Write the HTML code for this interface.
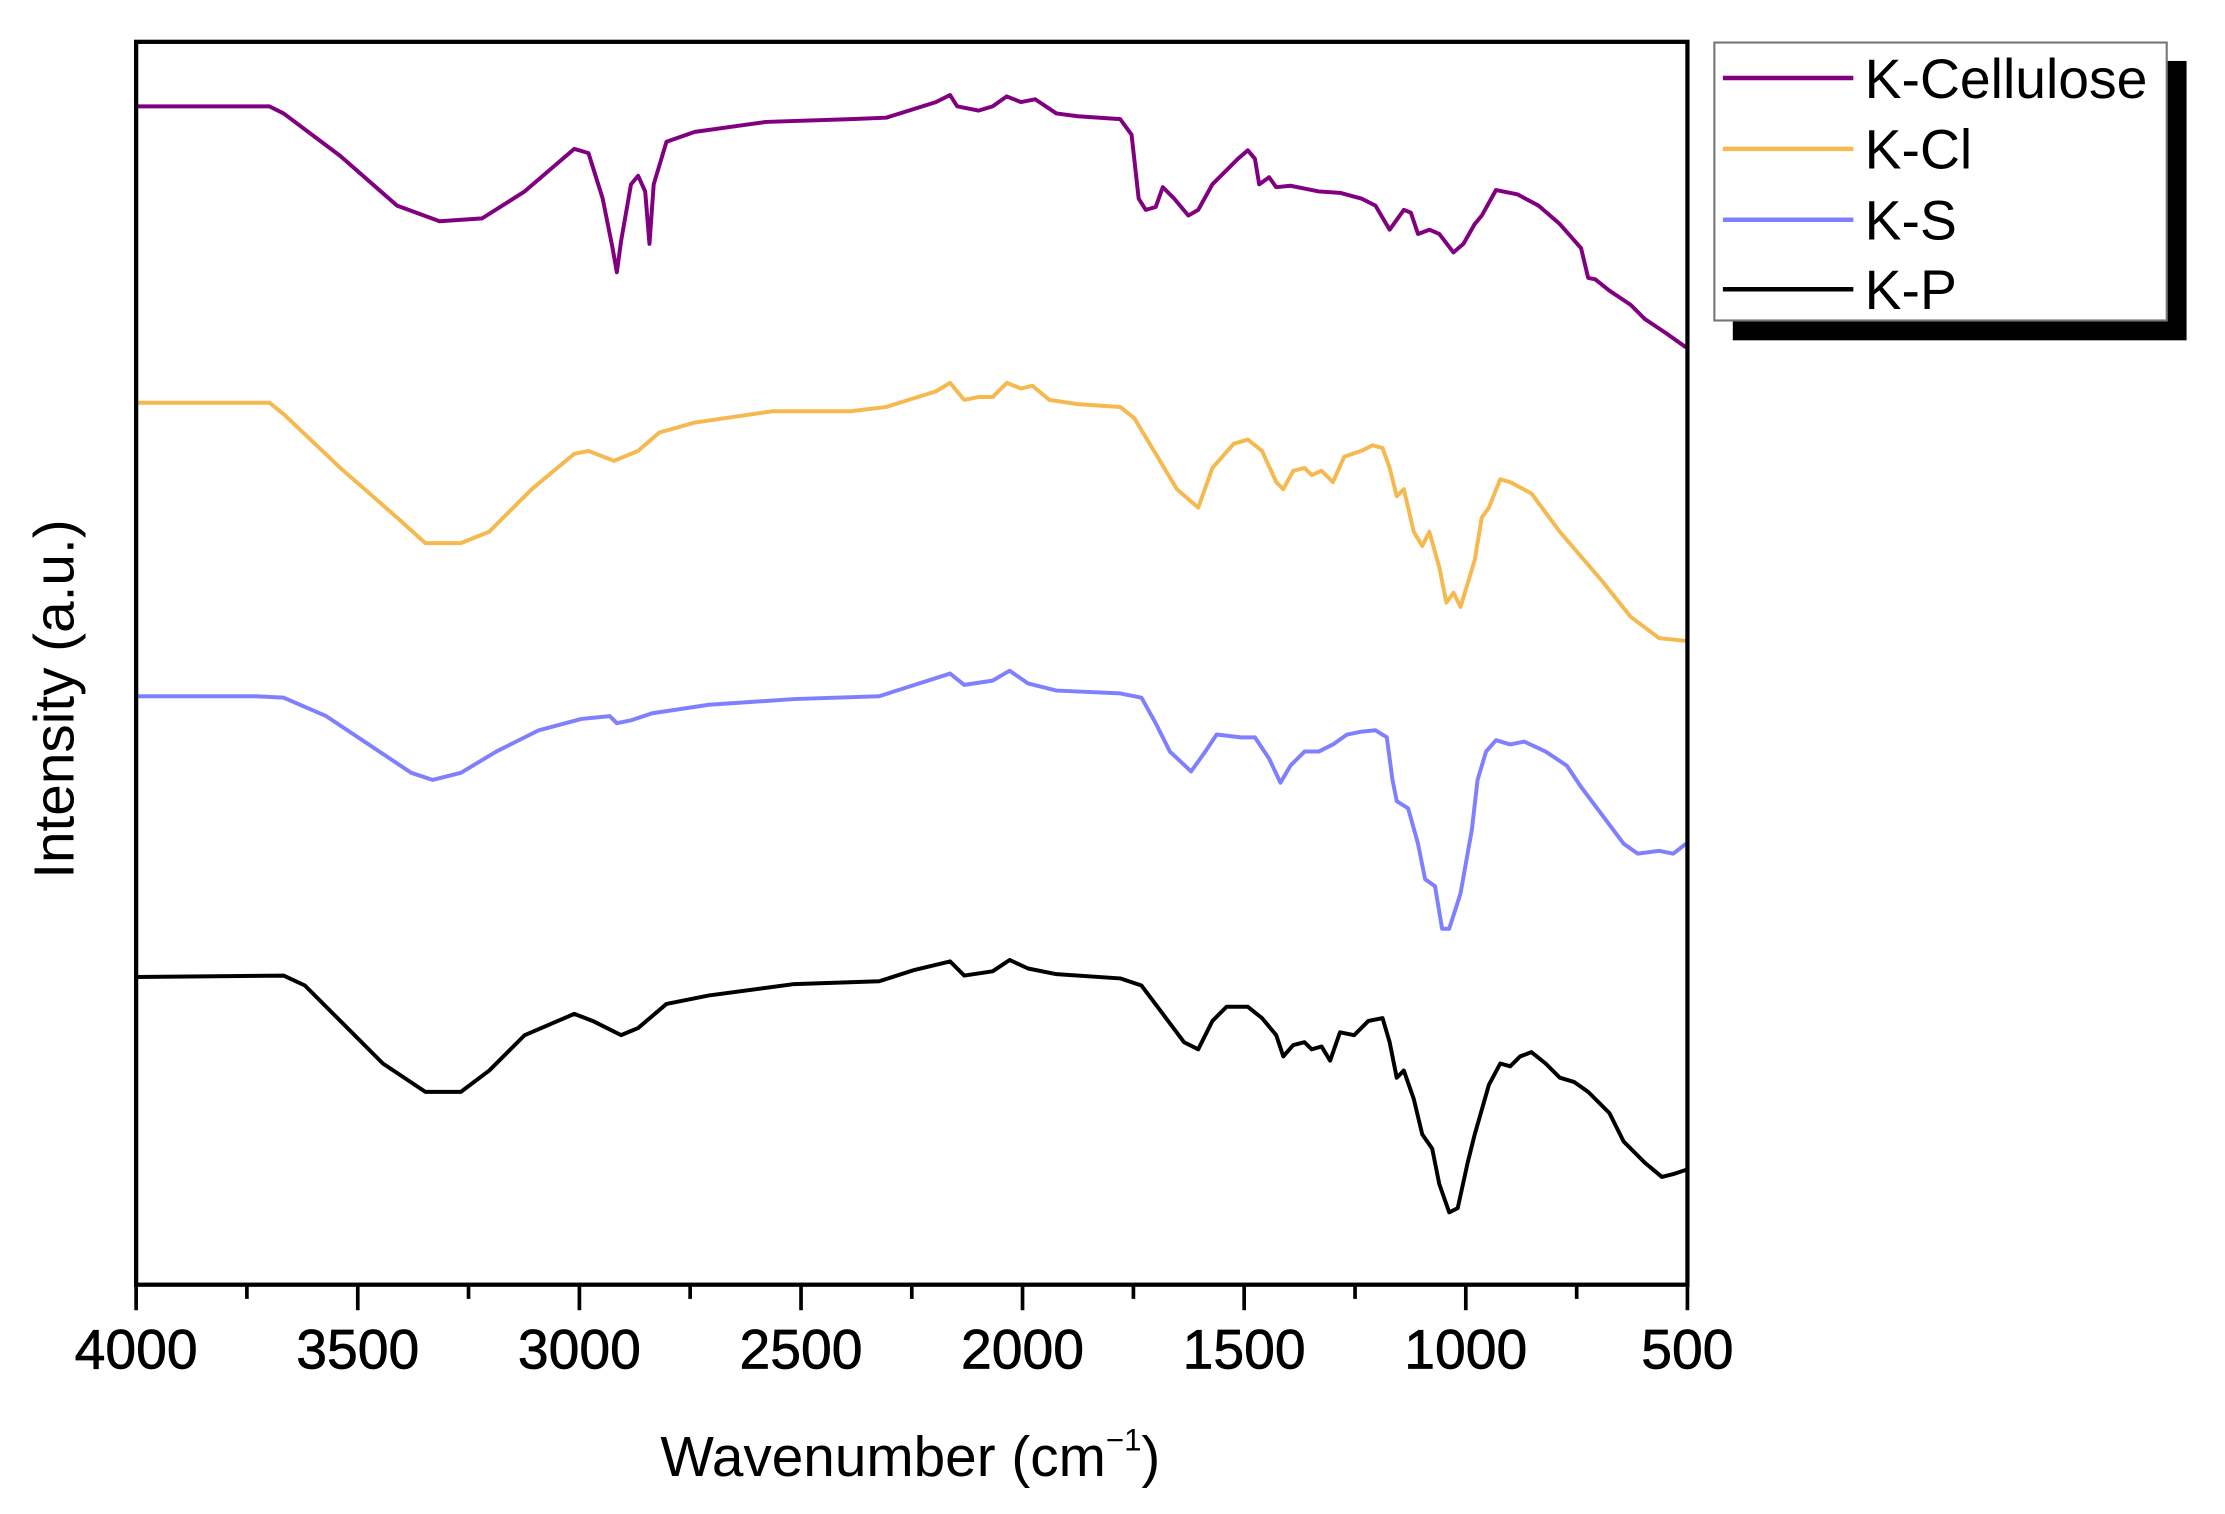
<!DOCTYPE html>
<html><head><meta charset="utf-8"><style>
html,body{margin:0;padding:0;background:#fff;}
svg{display:block;}
text{font-family:"Liberation Sans",Arial,sans-serif;fill:#000;}
</style></head><body>
<svg width="2225" height="1514" viewBox="0 0 1569.1 1067.7" xmlns="http://www.w3.org/2000/svg">
<rect x="0" y="0" width="1569.1" height="1067.7" fill="#fff"/>
<g fill="none" stroke-width="2.8" stroke-linejoin="round">
<polyline stroke="#800080" points="96,75 190,75 200,80 240,110 280,145 310,156 340,154 370,135 405,105 415,108 425,140 432,175 435,192 438,170 445,130 450,124 455,135 458,172 461,130 470,100 490,93 540,86 600,84 625,83 660,72 670,67 675,75 690,78 700,75 710,68 720,72 730,70 745,80 760,82 790,84 798,95 803,140 808,148 815,146 820,132 828,140 838,152 845,148 855,130 865,120 873,112 880,106 885,112 888,130 895,125 900,132 910,131 920,133 930,135 945,136 960,140 970,145 980,162 985,155 990,148 995,150 1000,165 1008,162 1015,165 1025,178 1032,172 1040,158 1045,152 1055,134 1070,137 1085,145 1100,158 1115,175 1120,196 1125,197 1135,205 1150,215 1160,225 1175,235 1189,245"/>
<polyline stroke="#F5B94F" points="96,284 190,284 200,292 240,330 280,365 300,383 325,383 345,375 375,345 405,320 415,318 433,325 450,318 465,305 490,298 545,290 600,290 625,287 660,276 670,270 680,282 690,280 700,280 710,270 720,274 728,272 740,282 760,285 790,287 800,295 815,320 830,345 845,358 855,330 870,313 880,310 890,318 900,340 905,345 912,332 920,330 925,335 932,332 940,340 948,322 960,318 968,314 975,316 980,330 985,350 990,345 997,375 1003,385 1008,375 1015,400 1020,425 1025,418 1030,428 1040,395 1045,365 1050,358 1058,338 1065,340 1080,348 1100,375 1130,410 1150,435 1170,450 1189,452"/>
<polyline stroke="#8080FF" points="96,491 180,491 200,492 230,505 260,525 290,545 305,550 325,545 350,530 380,515 410,507 430,505 435,510 445,508 460,503 500,497 560,493 620,491 645,483 670,475 680,483 700,480 712,473 725,482 745,487 790,489 805,492 815,510 825,530 840,544 850,530 858,518 875,520 885,520 895,535 903,552 910,540 920,530 930,530 940,525 950,518 960,516 970,515 978,520 982,550 985,565 993,570 1000,595 1005,620 1012,625 1017,655 1022,655 1030,630 1038,585 1042,550 1048,530 1055,522 1065,525 1075,523 1090,530 1105,540 1115,555 1130,575 1145,595 1155,602 1170,600 1180,602 1189,595"/>
<polyline stroke="#000" points="96,689 200,688 215,695 240,720 270,750 300,770 325,770 345,755 370,730 405,715 418,720 438,730 450,725 470,708 500,702 560,694 620,692 645,684 670,678 680,688 700,685 712,677 725,683 745,687 790,690 805,695 820,715 835,735 845,740 855,720 865,710 880,710 890,718 900,730 905,745 912,737 920,735 925,740 932,738 938,748 945,728 955,730 965,720 975,718 980,735 985,760 990,755 997,775 1003,800 1010,810 1015,835 1022,855 1028,852 1035,820 1040,800 1050,765 1058,750 1065,752 1072,745 1080,742 1090,750 1100,760 1110,763 1120,770 1135,785 1145,805 1160,820 1172,830 1180,828 1189,825"/>
</g>
<rect x="96" y="29.5" width="1094" height="876.5" fill="none" stroke="#000" stroke-width="3"/>
<g stroke="#000" stroke-width="2.6">
<line x1="96" y1="906" x2="96" y2="924"/><line x1="252.3" y1="906" x2="252.3" y2="924"/><line x1="408.6" y1="906" x2="408.6" y2="924"/><line x1="564.9" y1="906" x2="564.9" y2="924"/><line x1="721.1" y1="906" x2="721.1" y2="924"/><line x1="877.4" y1="906" x2="877.4" y2="924"/><line x1="1033.7" y1="906" x2="1033.7" y2="924"/><line x1="1190" y1="906" x2="1190" y2="924"/>
<line x1="174.1" y1="906" x2="174.1" y2="916"/><line x1="330.4" y1="906" x2="330.4" y2="916"/><line x1="486.7" y1="906" x2="486.7" y2="916"/><line x1="643" y1="906" x2="643" y2="916"/><line x1="799.3" y1="906" x2="799.3" y2="916"/><line x1="955.6" y1="906" x2="955.6" y2="916"/><line x1="1111.9" y1="906" x2="1111.9" y2="916"/>
</g>
<g font-size="39" text-anchor="middle" stroke="#000" stroke-width="0.5">
<text x="96" y="965">4000</text><text x="252.3" y="965">3500</text><text x="408.6" y="965">3000</text><text x="564.9" y="965">2500</text><text x="721.1" y="965">2000</text><text x="877.4" y="965">1500</text><text x="1033.7" y="965">1000</text><text x="1190" y="965">500</text>
</g>
<text x="642" y="1041" font-size="40" text-anchor="middle">Wavenumber (cm<tspan font-size="22" dy="-18">−1</tspan><tspan dy="18">)</tspan></text>
<text transform="translate(52,493) rotate(-90)" font-size="40" text-anchor="middle">Intensity (a.u.)</text>
<rect x="1222" y="43" width="320" height="197" fill="#000"/>
<rect x="1209" y="30" width="319" height="196" fill="#fff" stroke="#777" stroke-width="1.5"/>
<g stroke-width="3.2">
<line x1="1215" y1="55" x2="1307" y2="55" stroke="#800080"/>
<line x1="1215" y1="105" x2="1307" y2="105" stroke="#F5B94F"/>
<line x1="1215" y1="155" x2="1307" y2="155" stroke="#8080FF"/>
<line x1="1215" y1="204" x2="1307" y2="204" stroke="#000"/>
</g>
<g font-size="39">
<text x="1315" y="69">K-Cellulose</text>
<text x="1315" y="119">K-Cl</text>
<text x="1315" y="169">K-S</text>
<text x="1315" y="218">K-P</text>
</g>
</svg>
</body></html>
